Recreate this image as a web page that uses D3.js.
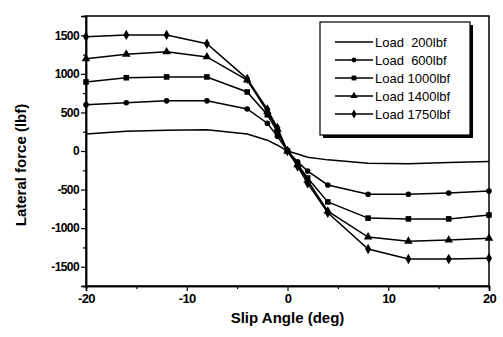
<!DOCTYPE html>
<html>
<head>
<meta charset="utf-8">
<script src="https://cdn.jsdelivr.net/npm/d3@7"></script>
<style>
  body { margin: 0; background: #fff; }
  svg text { font-family: "Liberation Sans", Arial, sans-serif; fill: #000; }
</style>
</head>
<body>
<div id="chart"></div>
<script>
// slip angles (deg)
const slipAngles = [-20, -16, -12, -8, -4, -2, -1, 0, 1, 2, 4, 8, 12, 16, 20];

// lateral force (lbf) per load
const load200 = [220, 255, 270, 275, 220, 140, 75, 0, -40, -80, -115, -160, -165, -150, -135];
const load600 = [600, 625, 650, 650, 545, 360, 190, 0, -140, -260, -440, -560, -560, -545, -520];
const load1000 = [895, 950, 960, 960, 765, 470, 250, 0, -170, -350, -660, -870, -880, -880, -830];
const load1400 = [1195, 1255, 1285, 1220, 920, 510, 280, 0, -180, -380, -780, -1115, -1170, -1155, -1130];
const load1750 = [1480, 1505, 1505, 1390, 935, 540, 300, 0, -200, -420, -800, -1270, -1400, -1400, -1390];

const seriesNames = ['Load  200lbf', 'Load  600lbf', 'Load 1000lbf', 'Load 1400lbf', 'Load 1750lbf'];
const seriesValues = [load200, load600, load1000, load1400, load1750];
const seriesMarkers = ['none', 'circle', 'square', 'triangle', 'diamond'];

const yTicks = [-1500, -1000, -500, 0, 500, 1000, 1500];
const xTicks = [-20, -10, 0, 10, 20];

const W = 503, H = 337;
const margin = { top: 16, right: 14, bottom: 51, left: 86 };
const width = W - margin.left - margin.right;
const height = H - margin.top - margin.bottom;

const svg = d3.select('#chart').append('svg')
  .attr('width', W)
  .attr('height', H);

const g = svg.append('g')
  .attr('transform', `translate(${margin.left},${margin.top})`);

const x = d3.scaleLinear().domain([-20, 20]).range([0, width]);
const y = d3.scaleLinear().domain([-1750, 1750]).range([height, 0]);

// plain hyphen minus, no thousands separator
const fmt = d => String(d);

// frame
g.append('rect')
  .attr('width', width)
  .attr('height', height)
  .attr('fill', 'none')
  .attr('stroke', '#000')
  .attr('stroke-width', 1.5);

// axes
const yAxis = g.append('g')
  .call(d3.axisLeft(y).tickValues(yTicks).tickSize(5).tickPadding(2).tickFormat(fmt));
g.append('g')
  .call(d3.axisLeft(y).tickValues(d3.range(-1750, 1751, 250).filter(v => v % 500 !== 0)).tickSize(3).tickFormat(''));
const xAxis = g.append('g')
  .attr('transform', `translate(0,${height})`)
  .call(d3.axisBottom(x).tickValues(xTicks).tickSize(5).tickPadding(3).tickFormat(fmt));
g.append('g')
  .attr('transform', `translate(0,${height})`)
  .call(d3.axisBottom(x).tickValues([-15, -5, 5, 15]).tickSize(3).tickFormat(''));

g.selectAll('.domain').attr('stroke', '#000').attr('stroke-width', 1.5);
g.selectAll('.tick line').attr('stroke', '#000').attr('stroke-width', 1.2);
g.selectAll('.tick text')
  .style('font-size', '12px')
  .style('font-family', '"Liberation Sans", Arial, sans-serif')
  .style('font-weight', 'bold')
  .style('letter-spacing', '-0.6px')
  .attr('fill', '#000');
xAxis.selectAll('.tick text').style('font-size', '13px');

// axis titles
svg.append('text')
  .attr('x', margin.left + x(0))
  .attr('y', 323)
  .attr('text-anchor', 'middle')
  .style('font-size', '15px')
  .style('font-weight', 'bold')
  .text('Slip Angle (deg)');

svg.append('text')
  .attr('transform', `translate(26,${margin.top + height / 2 + 14}) rotate(-90)`)
  .attr('text-anchor', 'middle')
  .style('font-size', '15px')
  .style('font-weight', 'bold')
  .text('Lateral force (lbf)');

// markers
function drawMarker(sel, type, r) {
  if (type === 'circle') {
    sel.append('circle').attr('r', r).attr('fill', '#000');
  } else if (type !== 'none') {
    const sym = { square: d3.symbolSquare, triangle: d3.symbolTriangle, diamond: d3.symbolDiamond }[type];
    sel.append('path').attr('d', d3.symbol().type(sym).size(r * r * 4)).attr('fill', '#000');
  }
}

const line = d3.line()
  .x((d, i) => x(slipAngles[i]))
  .y(d => y(d));

seriesValues.forEach((vals, s) => {
  g.append('path')
    .datum(vals)
    .attr('fill', 'none')
    .attr('stroke', '#000')
    .attr('stroke-width', 1.5)
    .attr('d', line);

  if (seriesMarkers[s] !== 'none') {
    vals.forEach((v, i) => {
      const m = g.append('g').attr('transform', `translate(${x(slipAngles[i])},${y(v)})`);
      drawMarker(m, seriesMarkers[s], 2.8);
    });
  }
});

// legend
const legend = svg.append('g').attr('transform', 'translate(320,22)');
legend.append('rect')
  .attr('x', 3).attr('y', 3)
  .attr('width', 150).attr('height', 113)
  .attr('fill', '#000');
legend.append('rect')
  .attr('width', 150).attr('height', 113)
  .attr('fill', '#fff')
  .attr('stroke', '#000')
  .attr('stroke-width', 1.2);

seriesNames.forEach((name, i) => {
  const row = legend.append('g').attr('transform', `translate(0,${20 + i * 18})`);
  row.append('line')
    .attr('x1', 15).attr('x2', 53)
    .attr('stroke', '#000').attr('stroke-width', 1.5);
  const m = row.append('g').attr('transform', 'translate(34,0)');
  drawMarker(m, seriesMarkers[i], 2.4);
  row.append('text')
    .attr('x', 55).attr('y', 5)
    .style('font-size', '13px')
    .style('white-space', 'pre')
    .attr('xml:space', 'preserve')
    .text(name);
});
</script>
</body>
</html>
